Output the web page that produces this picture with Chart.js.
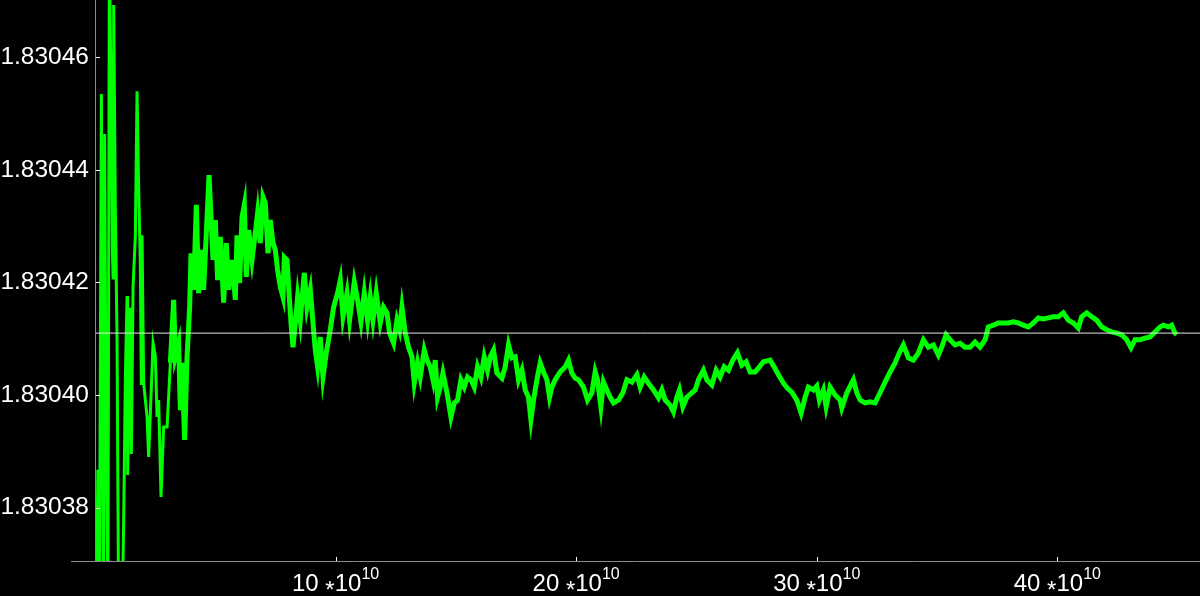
<!DOCTYPE html>
<html>
<head>
<meta charset="utf-8">
<script src="https://cdn.jsdelivr.net/npm/chart.js@4"></script>
<style>
  html, body { margin: 0; padding: 0; background: #000; }
  #wrap { width: 1200px; height: 596px; }
</style>
</head>
<body>
<div id="wrap"><canvas id="chart"></canvas></div>
<script>
// x in units of 10^10
const xs = [0.057, 0.119, 0.182, 0.265, 0.348, 0.402, 0.452, 0.535, 0.597, 0.668, 0.722, 0.751, 0.776, 0.846, 0.917, 0.983, 1.137, 1.191, 1.262, 1.333, 1.357, 1.470, 1.511, 1.582, 1.677, 1.748, 1.815, 1.885, 1.927, 1.956,
  2.022, 2.164, 2.230, 2.413, 2.508, 2.579, 2.646, 2.745, 2.853, 2.995, 3.132, 3.269, 3.339, 3.477, 3.547, 3.618, 3.726, 3.826, 3.934, 3.992,
  4.100, 4.212, 4.308, 4.407, 4.515, 4.627, 4.740, 4.823, 4.906, 5.001, 5.097, 5.209, 5.346, 5.458, 5.554, 5.695, 5.832, 5.903, 6.011, 6.111,
  6.206, 6.289, 6.385, 6.526, 6.663, 6.759, 6.871, 6.983, 7.079, 7.191, 7.287, 7.399, 7.494, 7.590, 7.702, 7.814, 7.868, 7.980, 8.076, 8.147,
  8.230, 8.325, 8.421, 8.533, 8.699, 8.811, 8.949, 9.061, 9.156, 9.252, 9.364, 9.476, 9.613, 9.780, 9.917, 10.083, 10.195, 10.307, 10.474, 10.582,
  10.777, 10.914, 11.055, 11.192, 11.330, 11.442, 11.554, 11.691, 11.857, 11.994, 12.136, 12.244, 12.410, 12.551, 12.659, 12.759, 12.896, 13.033, 13.174, 13.270,
  13.407, 13.519, 13.685, 13.797, 13.935, 14.047, 14.142, 14.238, 14.350, 14.462, 14.629, 14.795, 14.932, 15.069, 15.210, 15.347, 15.485, 15.626, 15.763, 15.900,
  16.041, 16.178, 16.315, 16.428, 16.565, 16.706, 16.914, 17.051, 17.188, 17.329, 17.466, 17.604, 17.745, 17.882, 18.019, 18.119, 18.227, 18.368, 18.505, 18.642,
  18.784, 18.892, 18.991, 19.128, 19.336, 19.544, 19.681, 19.822, 19.959, 20.097, 20.304, 20.471, 20.653, 20.790, 20.886, 21.027, 21.135, 21.277, 21.414, 21.551,
  21.759, 21.941, 22.108, 22.315, 22.523, 22.660, 22.826, 23.005, 23.213, 23.421, 23.562, 23.699, 23.907, 24.044, 24.185, 24.293, 24.434, 24.601, 24.808, 24.945,
  25.083, 25.290, 25.432, 25.639, 25.818, 25.984, 26.151, 26.329, 26.512, 26.703, 26.886, 27.064, 27.231, 27.438, 27.617, 27.783, 28.062, 28.228, 28.407, 28.615,
  28.781, 28.963, 29.171, 29.350, 29.516, 29.653, 29.861, 30.002, 30.110, 30.277, 30.389, 30.555, 30.763, 30.970, 31.041, 31.249, 31.523, 31.664, 31.801, 32.009,
  32.217, 32.424, 32.632, 32.840, 33.048, 33.255, 33.434, 33.600, 33.808, 34.016, 34.224, 34.431, 34.639, 34.847, 35.054, 35.196, 35.374, 35.540, 35.748, 35.956,
  36.164, 36.371, 36.579, 36.787, 36.995, 37.132, 37.340, 37.547, 37.755, 37.963, 38.171, 38.378, 38.586, 38.794, 39.002, 39.209, 39.417, 39.625, 39.833, 40.040,
  40.248, 40.456, 40.664, 40.871, 41.013, 41.221, 41.428, 41.636, 41.844, 42.052, 42.259, 42.467, 42.675, 42.883, 43.061, 43.228, 43.435, 43.643, 43.851, 44.059,
  44.266, 44.403, 44.611, 44.753, 44.889, 44.961];

const ys = [1.8303600, 1.8303867, 1.8303600, 1.8304535, 1.8303600, 1.8304464, 1.8303991, 1.8303600, 1.8304773, 1.8304548, 1.8304258, 1.8304208, 1.8304693, 1.8304329, 1.8304096, 1.8303600, 1.8303636, 1.8303772, 1.8304032, 1.8304176, 1.8303858, 1.8304155, 1.8303895, 1.8304192, 1.8304283, 1.8304540, 1.8304366, 1.8304231, 1.8304018, 1.8304284,
  1.8304021, 1.8303961, 1.8303890, 1.8304092, 1.8304068, 1.8303961, 1.8303991, 1.8303819, 1.8303943, 1.8303943, 1.8304057, 1.8304169, 1.8304068, 1.8304092, 1.8303973, 1.8304057, 1.8303920, 1.8304068, 1.8304156, 1.8304252,
  1.8304187, 1.8304338, 1.8304181, 1.8304258, 1.8304187, 1.8304288, 1.8304391, 1.8304316, 1.8304240, 1.8304311, 1.8304204, 1.8304281, 1.8304164, 1.8304270, 1.8304187, 1.8304240, 1.8304169, 1.8304284, 1.8304199, 1.8304316,
  1.8304338, 1.8304210, 1.8304293, 1.8304240, 1.8304288, 1.8304324, 1.8304270, 1.8304352, 1.8304341, 1.8304252, 1.8304311, 1.8304270, 1.8304258, 1.8304222, 1.8304192, 1.8304174, 1.8304245, 1.8304240, 1.8304174, 1.8304128,
  1.8304085, 1.8304128, 1.8304174, 1.8304133, 1.8304217, 1.8304156, 1.8304187, 1.8304128, 1.8304080, 1.8304050, 1.8304103, 1.8304032, 1.8304075, 1.8304116, 1.8304156, 1.8304181, 1.8304204, 1.8304139, 1.8304181, 1.8304133,
  1.8304201, 1.8304169, 1.8304130, 1.8304181, 1.8304133, 1.8304174, 1.8304133, 1.8304181, 1.8304128, 1.8304156, 1.8304146, 1.8304110, 1.8304092, 1.8304133, 1.8304116, 1.8304156, 1.8304110, 1.8304085, 1.8304068, 1.8304021,
  1.8304057, 1.8304032, 1.8304080, 1.8304062, 1.8304050, 1.8304027, 1.8304062, 1.8303996, 1.8304014, 1.8304039, 1.8304004, 1.8303961, 1.8303986, 1.8303991, 1.8304027, 1.8304014, 1.8304032, 1.8304027, 1.8304014, 1.8304050,
  1.8304032, 1.8304068, 1.8304044, 1.8304068, 1.8304080, 1.8304039, 1.8304030, 1.8304050, 1.8304089, 1.8304066, 1.8304068, 1.8304027, 1.8304044, 1.8304009, 1.8303996, 1.8303956, 1.8303991, 1.8304027, 1.8304057, 1.8304041,
  1.8304027, 1.8303996, 1.8304014, 1.8304027, 1.8304041, 1.8304050, 1.8304062, 1.8304039, 1.8304030, 1.8304027, 1.8304014, 1.8303991, 1.8304004, 1.8304041, 1.8304027, 1.8303979, 1.8304023, 1.8304009, 1.8303996, 1.8303986,
  1.8303991, 1.8304004, 1.8304027, 1.8304023, 1.8304036, 1.8304014, 1.8304032, 1.8304021, 1.8304009, 1.8303995, 1.8304009, 1.8303991, 1.8303982, 1.8303970, 1.8303996, 1.8304009, 1.8303979, 1.8303996, 1.8304004, 1.8304009,
  1.8304027, 1.8304044, 1.8304027, 1.8304018, 1.8304044, 1.8304032, 1.8304050, 1.8304044, 1.8304062, 1.8304075, 1.8304053, 1.8304059, 1.8304041, 1.8304041, 1.8304050, 1.8304059, 1.8304062, 1.8304050, 1.8304036, 1.8304021,
  1.8304012, 1.8304005, 1.8303991, 1.8303968, 1.8303996, 1.8304014, 1.8304009, 1.8304016, 1.8303991, 1.8304009, 1.8303979, 1.8304014, 1.8304000, 1.8303991, 1.8303977, 1.8304004, 1.8304027, 1.8304004, 1.8303991, 1.8303986,
  1.8303988, 1.8303986, 1.8304004, 1.8304023, 1.8304041, 1.8304057, 1.8304075, 1.8304089, 1.8304066, 1.8304062, 1.8304075, 1.8304098, 1.8304085, 1.8304089, 1.8304071, 1.8304085, 1.8304107, 1.8304098, 1.8304089, 1.8304092,
  1.8304085, 1.8304085, 1.8304094, 1.8304085, 1.8304098, 1.8304121, 1.8304124, 1.8304128, 1.8304128, 1.8304128, 1.8304130, 1.8304128, 1.8304124, 1.8304121, 1.8304128, 1.8304137, 1.8304135, 1.8304137, 1.8304139, 1.8304139,
  1.8304146, 1.8304133, 1.8304128, 1.8304119, 1.8304139, 1.8304146, 1.8304139, 1.8304133, 1.8304121, 1.8304116, 1.8304112, 1.8304110, 1.8304107, 1.8304098, 1.8304084, 1.8304098, 1.8304098, 1.8304101, 1.8304103, 1.8304112,
  1.8304121, 1.8304124, 1.8304121, 1.8304124, 1.8304110, 1.8304107];

const refValue = 1.8304110;   // white horizontal line
const xTicks = [10, 20, 30, 40];
const xExponent = '10';
const yTicks = [1.83038, 1.83040, 1.83042, 1.83044, 1.83046];
const xMin = 0, xMax = 45.93;
const yMin = 1.8303705, yMax = 1.8304702;

const FONT = '"Liberation Sans", Arial, sans-serif';

// axis lines, inward ticks and "N *10^10" labels
const axisDecor = {
  id: 'axisDecor',
  afterDraw(chart) {
    const { ctx, chartArea: a, scales: { x, y } } = chart;
    ctx.save();
    ctx.strokeStyle = '#8a8a8a';
    ctx.lineWidth = 1;
    ctx.beginPath();
    ctx.moveTo(a.left - 24, a.bottom + 0.5);
    ctx.lineTo(a.right, a.bottom + 0.5);
    ctx.moveTo(a.left + 0.5, a.top);
    ctx.lineTo(a.left + 0.5, a.bottom);
    ctx.stroke();

    ctx.strokeStyle = '#fff';
    ctx.beginPath();
    y.ticks.forEach(t => {
      const py = Math.round(y.getPixelForValue(t.value)) + 0.5;
      ctx.moveTo(a.left + 1, py);
      ctx.lineTo(a.left + 5, py);
    });
    x.ticks.forEach(t => {
      const px = Math.round(x.getPixelForValue(t.value)) + 0.5;
      ctx.moveTo(px, a.bottom);
      ctx.lineTo(px, a.bottom - 4);
    });
    ctx.stroke();

    ctx.fillStyle = '#fff';
    ctx.textBaseline = 'alphabetic';
    ctx.textAlign = 'left';
    const base = a.bottom + 30;
    x.ticks.forEach(t => {
      const head = t.value + ' ';
      ctx.font = '24px ' + FONT;
      const w1 = ctx.measureText(head).width;
      const w2 = ctx.measureText('*').width;
      const w3 = ctx.measureText('10').width;
      ctx.font = '16px ' + FONT;
      const w4 = ctx.measureText(xExponent).width;
      let px = x.getPixelForValue(t.value) - (w1 + w2 + w3 + w4) / 2;
      ctx.font = '24px ' + FONT;
      ctx.fillText(head, px, base); px += w1;
      ctx.fillText('*', px, base + 7); px += w2;
      ctx.fillText('10', px, base); px += w3;
      ctx.font = '16px ' + FONT;
      ctx.fillText(xExponent, px, base - 12);
    });
    ctx.restore();
  }
};

new Chart(document.getElementById('chart'), {
  type: 'line',
  data: {
    datasets: [{
      data: xs.map((v, i) => ({ x: v, y: ys[i] })),
      borderColor: '#00ff00',
      borderWidth: 5,
      borderJoinStyle: 'miter',
      segment: {
        // the early wild swings are drawn thinner than the settled band
        borderWidth: c => c.p0.parsed.x < 3 ? 3 : 5
      },
      pointRadius: 0,
      tension: 0,
      order: 2
    }, {
      data: [{ x: xMin, y: refValue }, { x: xMax, y: refValue }],
      borderColor: '#e6e6e6',
      borderWidth: 1,
      pointRadius: 0,
      order: 1
    }]
  },
  options: {
    responsive: true,
    maintainAspectRatio: false,
    animation: false,
    layout: { padding: 0 },
    plugins: { legend: { display: false }, tooltip: { enabled: false } },
    scales: {
      x: {
        type: 'linear',
        min: xMin,
        max: xMax,
        afterBuildTicks: s => { s.ticks = xTicks.map(v => ({ value: v })); },
        afterFit: s => { s.height = 35; s.paddingLeft = 0; s.paddingRight = 0; },
        grid: { display: false, drawTicks: false },
        border: { display: false },
        ticks: { display: false }
      },
      y: {
        min: yMin,
        max: yMax,
        afterBuildTicks: s => { s.ticks = yTicks.map(v => ({ value: v })); },
        afterFit: s => { s.width = 95; s.paddingTop = 0; s.paddingBottom = 0; },
        grid: { display: false, drawTicks: false },
        border: { display: false },
        ticks: {
          color: '#fff',
          padding: 6,
          font: { family: FONT, size: 24.5 },
          callback: v => v.toFixed(5)
        }
      }
    }
  },
  plugins: [axisDecor]
});
</script>
</body>
</html>
